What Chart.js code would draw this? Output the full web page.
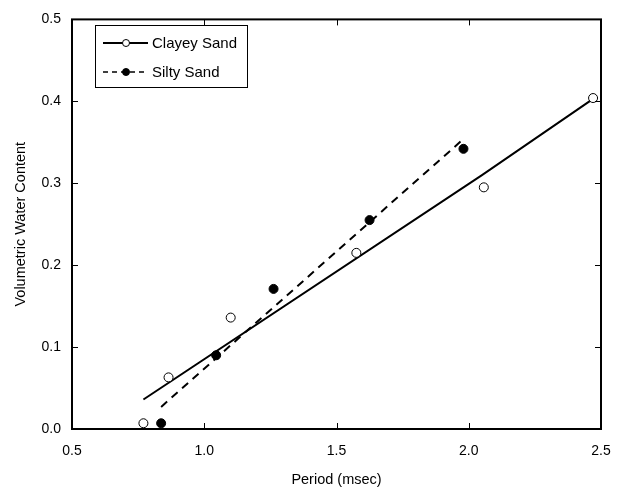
<!DOCTYPE html>
<html>
<head>
<meta charset="utf-8">
<script src="https://cdn.jsdelivr.net/npm/chart.js@4"></script>
<style>
  html, body { margin: 0; padding: 0; background: #fff; }
  #wrap { width: 622px; height: 490px; }
</style>
</head>
<body>
<div id="wrap"><canvas id="chart" width="622" height="490"></canvas></div>
<script>
// measured points
const clayeyX = [0.77, 0.865, 1.10, 1.575, 2.057, 2.47];
const clayeyY = [0.007, 0.063, 0.136, 0.215, 0.295, 0.404];
const siltyX = [0.837, 1.045, 1.262, 1.625, 1.98];
const siltyY = [0.007, 0.090, 0.171, 0.255, 0.342];

// fitted lines as drawn
const clayeyFitX = [0.77, 2.05, 2.47];
const clayeyFitY = [0.036, 0.310, 0.403];
const siltyFitX = [0.837, 1.98];
const siltyFitY = [0.027, 0.354];

const xTicks = [0.5, 1.0, 1.5, 2.0, 2.5];
const yTicks = [0.0, 0.1, 0.2, 0.3, 0.4, 0.5];

const FONT = "'Liberation Sans', Arial, sans-serif";

function pts(xs, ys) {
    return xs.map((x, i) => ({x: x, y: ys[i]}));
}

// box + inward tick marks
const frame = {
    id: 'frame',
    afterDatasetsDraw(chart) {
        const {ctx, chartArea: a, scales} = chart;
        ctx.save();
        ctx.strokeStyle = '#000';
        ctx.lineWidth = 1;
        ctx.beginPath();
        xTicks.forEach(v => {
            const px = Math.round(scales.x.getPixelForValue(v)) + 0.5;
            ctx.moveTo(px, a.bottom); ctx.lineTo(px, a.bottom - 6);
            ctx.moveTo(px, a.top); ctx.lineTo(px, a.top + 6);
        });
        yTicks.forEach(v => {
            const py = Math.round(scales.y.getPixelForValue(v)) + 0.5;
            ctx.moveTo(a.left, py); ctx.lineTo(a.left + 6, py);
            ctx.moveTo(a.right, py); ctx.lineTo(a.right - 6, py);
        });
        ctx.stroke();
        ctx.lineWidth = 2;
        ctx.strokeRect(a.left, a.top, a.right - a.left, a.bottom - a.top);
        ctx.restore();
    }
};

// legend box inside the plot
const boxLegend = {
    id: 'boxLegend',
    afterDraw(chart) {
        const ctx = chart.ctx;
        const x0 = 95, y0 = 25, w = 152, h = 62;
        const rows = [
            {label: chart.data.datasets[0].label, dash: [], fill: '#fff', y: y0 + 18},
            {label: chart.data.datasets[1].label, dash: [5, 4], fill: '#000', y: y0 + 47}
        ];
        ctx.save();
        ctx.fillStyle = '#fff';
        ctx.fillRect(x0, y0, w, h);
        ctx.strokeStyle = '#000';
        ctx.lineWidth = 1;
        ctx.strokeRect(x0 + 0.5, y0 + 0.5, w, h);
        rows.forEach(r => {
            ctx.lineWidth = r.dash.length ? 1.5 : 2;
            ctx.setLineDash(r.dash);
            ctx.beginPath();
            ctx.moveTo(103, r.y);
            ctx.lineTo(148, r.y);
            ctx.stroke();
            ctx.setLineDash([]);
            ctx.beginPath();
            ctx.arc(126, r.y, 3.5, 0, Math.PI * 2);
            ctx.fillStyle = r.fill;
            ctx.fill();
            ctx.lineWidth = 1;
            ctx.stroke();
            ctx.fillStyle = '#000';
            ctx.font = '15px ' + FONT;
            ctx.textBaseline = 'middle';
            ctx.fillText(r.label, 152, r.y + 1);
        });
        ctx.restore();
    }
};

new Chart(document.getElementById('chart'), {
    type: 'scatter',
    data: {
        datasets: [
            {label: 'Clayey Sand', data: pts(clayeyX, clayeyY), pointRadius: 4.5,
                pointBackgroundColor: '#fff', pointBorderColor: '#000', pointBorderWidth: 1, showLine: false},
            {label: 'Silty Sand', data: pts(siltyX, siltyY), pointRadius: 4.5,
                pointBackgroundColor: '#000', pointBorderColor: '#000', pointBorderWidth: 1, showLine: false},
            {label: 'Clayey fit', data: pts(clayeyFitX, clayeyFitY), showLine: true, pointRadius: 0,
                borderColor: '#000', borderWidth: 2, tension: 0},
            {label: 'Silty fit', data: pts(siltyFitX, siltyFitY), showLine: true, pointRadius: 0,
                borderColor: '#000', borderWidth: 2, borderDash: [8, 6]}
        ]
    },
    options: {
        responsive: false,
        animation: false,
        layout: {padding: {top: 13, right: 21, bottom: 0, left: 0}},
        plugins: {legend: {display: false}, tooltip: {enabled: false}},
        scales: {
            x: {
                type: 'linear', min: 0.5, max: 2.5,
                afterFit(s) { s.height = 61; s.paddingLeft = 0; s.paddingRight = 10; },
                grid: {display: false, drawTicks: false},
                border: {display: false},
                ticks: {stepSize: 0.5, padding: 14, color: '#000', font: {family: FONT, size: 14},
                    callback: v => v.toFixed(1)},
                title: {display: true, text: 'Period (msec)', color: '#000',
                    font: {family: FONT, size: 14.5}, padding: {top: 4, bottom: 1}}
            },
            y: {
                type: 'linear', min: 0, max: 0.5,
                afterFit(s) { s.width = 72; },
                grid: {display: false, drawTicks: false},
                border: {display: false},
                ticks: {stepSize: 0.1, padding: 11, color: '#000', font: {family: FONT, size: 14},
                    callback: v => v.toFixed(1)},
                title: {display: true, text: 'Volumetric Water Content', color: '#000',
                    font: {family: FONT, size: 14.5}, padding: {top: 12, bottom: 4}}
            }
        }
    },
    plugins: [frame, boxLegend]
});
</script>
</body>
</html>
